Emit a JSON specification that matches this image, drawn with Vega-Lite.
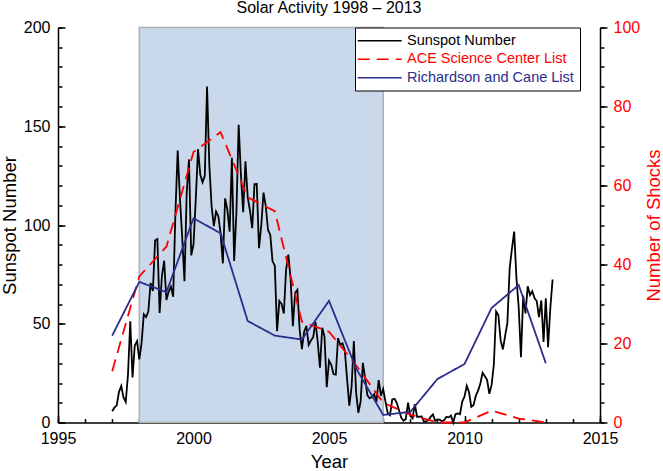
{
  "$schema": "https://vega.github.io/schema/vega-lite/v6.json",
  "width": 542,
  "height": 395,
  "autosize": {"type": "none"},
  "padding": {"left": 58, "top": 27.5, "right": 63, "bottom": 48.5},
  "title": {"text": "Solar Activity 1998 – 2013", "fontSize": 16, "fontWeight": "normal", "font": "Liberation Sans", "offset": 4},
  "datasets": {
    "shade": [{"start": 1998, "end": 2007}],
    "ssn": [
      {"t": 1997.0000, "v": 5.7}, {"t": 1997.0833, "v": 7.6}, {"t": 1997.1667, "v": 8.7}, {"t": 1997.2500, "v": 15.5},
      {"t": 1997.3333, "v": 18.5}, {"t": 1997.4167, "v": 12.7}, {"t": 1997.5000, "v": 10.4}, {"t": 1997.5833, "v": 24.4},
      {"t": 1997.6667, "v": 51.3}, {"t": 1997.7500, "v": 22.8}, {"t": 1997.8333, "v": 39.0}, {"t": 1997.9167, "v": 41.2},
      {"t": 1998.0000, "v": 31.9}, {"t": 1998.0833, "v": 40.3}, {"t": 1998.1667, "v": 54.8}, {"t": 1998.2500, "v": 53.4},
      {"t": 1998.3333, "v": 56.3}, {"t": 1998.4167, "v": 70.7}, {"t": 1998.5000, "v": 66.6}, {"t": 1998.5833, "v": 92.2},
      {"t": 1998.6667, "v": 92.9}, {"t": 1998.7500, "v": 55.5}, {"t": 1998.8333, "v": 74.0}, {"t": 1998.9167, "v": 81.9},
      {"t": 1999.0000, "v": 62.0}, {"t": 1999.0833, "v": 66.3}, {"t": 1999.1667, "v": 68.8}, {"t": 1999.2500, "v": 63.7},
      {"t": 1999.3333, "v": 106.4}, {"t": 1999.4167, "v": 137.7}, {"t": 1999.5000, "v": 113.5}, {"t": 1999.5833, "v": 93.7},
      {"t": 1999.6667, "v": 71.5}, {"t": 1999.7500, "v": 116.7}, {"t": 1999.8333, "v": 133.2}, {"t": 1999.9167, "v": 84.6},
      {"t": 2000.0000, "v": 90.1}, {"t": 2000.0833, "v": 112.9}, {"t": 2000.1667, "v": 138.5}, {"t": 2000.2500, "v": 125.5},
      {"t": 2000.3333, "v": 121.6}, {"t": 2000.4167, "v": 124.9}, {"t": 2000.5000, "v": 170.1}, {"t": 2000.5833, "v": 130.5},
      {"t": 2000.6667, "v": 109.7}, {"t": 2000.7500, "v": 99.4}, {"t": 2000.8333, "v": 106.8}, {"t": 2000.9167, "v": 104.4},
      {"t": 2001.0000, "v": 95.6}, {"t": 2001.0833, "v": 80.6}, {"t": 2001.1667, "v": 113.5}, {"t": 2001.2500, "v": 107.7},
      {"t": 2001.3333, "v": 96.6}, {"t": 2001.4167, "v": 134.0}, {"t": 2001.5000, "v": 81.8}, {"t": 2001.5833, "v": 106.4},
      {"t": 2001.6667, "v": 150.7}, {"t": 2001.7500, "v": 125.5}, {"t": 2001.8333, "v": 106.5}, {"t": 2001.9167, "v": 132.2},
      {"t": 2002.0000, "v": 114.1}, {"t": 2002.0833, "v": 107.4}, {"t": 2002.1667, "v": 98.4}, {"t": 2002.2500, "v": 120.7},
      {"t": 2002.3333, "v": 120.8}, {"t": 2002.4167, "v": 88.3}, {"t": 2002.5000, "v": 99.6}, {"t": 2002.5833, "v": 116.4},
      {"t": 2002.6667, "v": 109.6}, {"t": 2002.7500, "v": 97.5}, {"t": 2002.8333, "v": 95.0}, {"t": 2002.9167, "v": 81.6},
      {"t": 2003.0000, "v": 79.5}, {"t": 2003.0833, "v": 46.2}, {"t": 2003.1667, "v": 61.5}, {"t": 2003.2500, "v": 60.0},
      {"t": 2003.3333, "v": 55.2}, {"t": 2003.4167, "v": 77.4}, {"t": 2003.5000, "v": 85.0}, {"t": 2003.5833, "v": 72.7},
      {"t": 2003.6667, "v": 48.8}, {"t": 2003.7500, "v": 65.6}, {"t": 2003.8333, "v": 67.2}, {"t": 2003.9167, "v": 47.0},
      {"t": 2004.0000, "v": 37.2}, {"t": 2004.0833, "v": 46.0}, {"t": 2004.1667, "v": 48.9}, {"t": 2004.2500, "v": 39.3},
      {"t": 2004.3333, "v": 41.5}, {"t": 2004.4167, "v": 43.2}, {"t": 2004.5000, "v": 51.0}, {"t": 2004.5833, "v": 40.9},
      {"t": 2004.6667, "v": 27.7}, {"t": 2004.7500, "v": 48.0}, {"t": 2004.8333, "v": 43.5}, {"t": 2004.9167, "v": 17.9},
      {"t": 2005.0000, "v": 31.3}, {"t": 2005.0833, "v": 29.2}, {"t": 2005.1667, "v": 24.5}, {"t": 2005.2500, "v": 24.2},
      {"t": 2005.3333, "v": 42.7}, {"t": 2005.4167, "v": 39.3}, {"t": 2005.5000, "v": 40.1}, {"t": 2005.5833, "v": 36.4},
      {"t": 2005.6667, "v": 22.1}, {"t": 2005.7500, "v": 8.5}, {"t": 2005.8333, "v": 18.0}, {"t": 2005.9167, "v": 41.2},
      {"t": 2006.0000, "v": 15.3}, {"t": 2006.0833, "v": 4.9}, {"t": 2006.1667, "v": 10.6}, {"t": 2006.2500, "v": 30.2},
      {"t": 2006.3333, "v": 22.3}, {"t": 2006.4167, "v": 13.9}, {"t": 2006.5000, "v": 12.2}, {"t": 2006.5833, "v": 12.9},
      {"t": 2006.6667, "v": 14.4}, {"t": 2006.7500, "v": 10.4}, {"t": 2006.8333, "v": 21.5}, {"t": 2006.9167, "v": 13.6},
      {"t": 2007.0000, "v": 16.9}, {"t": 2007.0833, "v": 10.6}, {"t": 2007.1667, "v": 4.8}, {"t": 2007.2500, "v": 3.7},
      {"t": 2007.3333, "v": 11.7}, {"t": 2007.4167, "v": 12.0}, {"t": 2007.5000, "v": 10.0}, {"t": 2007.5833, "v": 6.2},
      {"t": 2007.6667, "v": 2.4}, {"t": 2007.7500, "v": 0.9}, {"t": 2007.8333, "v": 1.7}, {"t": 2007.9167, "v": 10.1},
      {"t": 2008.0000, "v": 3.3}, {"t": 2008.0833, "v": 2.1}, {"t": 2008.1667, "v": 9.3}, {"t": 2008.2500, "v": 2.9},
      {"t": 2008.3333, "v": 2.9}, {"t": 2008.4167, "v": 3.1}, {"t": 2008.5000, "v": 0.5}, {"t": 2008.5833, "v": 0.5},
      {"t": 2008.6667, "v": 1.1}, {"t": 2008.7500, "v": 2.9}, {"t": 2008.8333, "v": 4.1}, {"t": 2008.9167, "v": 0.8},
      {"t": 2009.0000, "v": 1.5}, {"t": 2009.0833, "v": 1.4}, {"t": 2009.1667, "v": 0.7}, {"t": 2009.2500, "v": 1.2},
      {"t": 2009.3333, "v": 2.9}, {"t": 2009.4167, "v": 2.6}, {"t": 2009.5000, "v": 3.5}, {"t": 2009.5833, "v": 0.0},
      {"t": 2009.6667, "v": 4.2}, {"t": 2009.7500, "v": 4.6}, {"t": 2009.8333, "v": 4.2}, {"t": 2009.9167, "v": 10.6},
      {"t": 2010.0000, "v": 13.1}, {"t": 2010.0833, "v": 18.6}, {"t": 2010.1667, "v": 15.4}, {"t": 2010.2500, "v": 7.9},
      {"t": 2010.3333, "v": 8.8}, {"t": 2010.4167, "v": 13.5}, {"t": 2010.5000, "v": 16.1}, {"t": 2010.5833, "v": 19.6},
      {"t": 2010.6667, "v": 25.2}, {"t": 2010.7500, "v": 23.5}, {"t": 2010.8333, "v": 21.6}, {"t": 2010.9167, "v": 14.5},
      {"t": 2011.0000, "v": 19.0}, {"t": 2011.0833, "v": 29.4}, {"t": 2011.1667, "v": 56.2}, {"t": 2011.2500, "v": 54.4},
      {"t": 2011.3333, "v": 41.6}, {"t": 2011.4167, "v": 37.0}, {"t": 2011.5000, "v": 43.9}, {"t": 2011.5833, "v": 50.6},
      {"t": 2011.6667, "v": 78.0}, {"t": 2011.7500, "v": 88.0}, {"t": 2011.8333, "v": 96.7}, {"t": 2011.9167, "v": 73.0},
      {"t": 2012.0000, "v": 58.3}, {"t": 2012.0833, "v": 33.1}, {"t": 2012.1667, "v": 64.2}, {"t": 2012.2500, "v": 55.2},
      {"t": 2012.3333, "v": 69.0}, {"t": 2012.4167, "v": 64.5}, {"t": 2012.5000, "v": 66.5}, {"t": 2012.5833, "v": 63.0},
      {"t": 2012.6667, "v": 61.4}, {"t": 2012.7500, "v": 53.3}, {"t": 2012.8333, "v": 61.8}, {"t": 2012.9167, "v": 40.8},
      {"t": 2013.0000, "v": 62.9}, {"t": 2013.0833, "v": 38.1}, {"t": 2013.1667, "v": 57.9}, {"t": 2013.2500, "v": 72.4}
    ],
    "shocks": [
      {"t": 1997, "s": "ACE Science Center List", "v": 13},
      {"t": 1998, "s": "ACE Science Center List", "v": 37},
      {"t": 1999, "s": "ACE Science Center List", "v": 44.5},
      {"t": 2000, "s": "ACE Science Center List", "v": 68.5},
      {"t": 2001, "s": "ACE Science Center List", "v": 73.5},
      {"t": 2002, "s": "ACE Science Center List", "v": 57},
      {"t": 2003, "s": "ACE Science Center List", "v": 53.5},
      {"t": 2004, "s": "ACE Science Center List", "v": 25.5},
      {"t": 2005, "s": "ACE Science Center List", "v": 23},
      {"t": 2006, "s": "ACE Science Center List", "v": 14.5},
      {"t": 2007, "s": "ACE Science Center List", "v": 5},
      {"t": 2008, "s": "ACE Science Center List", "v": 2},
      {"t": 2009, "s": "ACE Science Center List", "v": 0},
      {"t": 2010, "s": "ACE Science Center List", "v": 0},
      {"t": 2011, "s": "ACE Science Center List", "v": 3},
      {"t": 2012, "s": "ACE Science Center List", "v": 1},
      {"t": 2013, "s": "ACE Science Center List", "v": 0},
      {"t": 1997, "s": "Richardson and Cane List", "v": 22},
      {"t": 1998, "s": "Richardson and Cane List", "v": 35.6},
      {"t": 1999, "s": "Richardson and Cane List", "v": 33},
      {"t": 2000, "s": "Richardson and Cane List", "v": 51.7},
      {"t": 2001, "s": "Richardson and Cane List", "v": 47.9},
      {"t": 2002, "s": "Richardson and Cane List", "v": 25.7},
      {"t": 2003, "s": "Richardson and Cane List", "v": 22},
      {"t": 2004, "s": "Richardson and Cane List", "v": 21},
      {"t": 2005, "s": "Richardson and Cane List", "v": 30.8},
      {"t": 2006, "s": "Richardson and Cane List", "v": 13.7},
      {"t": 2007, "s": "Richardson and Cane List", "v": 1.9},
      {"t": 2008, "s": "Richardson and Cane List", "v": 2.7},
      {"t": 2009, "s": "Richardson and Cane List", "v": 11},
      {"t": 2010, "s": "Richardson and Cane List", "v": 14.8},
      {"t": 2011, "s": "Richardson and Cane List", "v": 29},
      {"t": 2012, "s": "Richardson and Cane List", "v": 34.8},
      {"t": 2013, "s": "Richardson and Cane List", "v": 15}
    ]
  },
  "layer": [
    {
      "data": {"name": "shade"},
      "mark": {"type": "rect", "fill": "#c9d8ea", "stroke": "#b0b0b0", "strokeWidth": 1.5},
      "encoding": {
        "x": {"field": "start", "type": "quantitative", "scale": {"domain": [1995, 2015], "nice": false}, "axis": null},
        "x2": {"field": "end"}
      }
    },
    {
      "data": {"name": "ssn"},
      "mark": {"type": "line", "strokeWidth": 1.8},
      "encoding": {
        "x": {"field": "t", "type": "quantitative", "scale": {"domain": [1995, 2015], "nice": false},
          "axis": {"orient": "bottom", "values": [1995, 2000, 2005, 2010, 2015], "format": "d", "ticks": false, "labelFlush": false, "labelPadding": 8, "title": "Year", "titlePadding": 6}},
        "y": {"field": "v", "type": "quantitative", "scale": {"domain": [0, 200], "nice": false},
          "axis": {"orient": "left", "values": [0, 50, 100, 150, 200], "ticks": false, "labelPadding": 8, "title": "Sunspot Number", "titlePadding": 4}},
        "color": {"datum": "Sunspot Number", "type": "nominal",
          "scale": {"domain": ["Sunspot Number", "ACE Science Center List", "Richardson and Cane List"], "range": ["black", "red", "#2b2d8c"]}},
        "strokeDash": {"datum": "Sunspot Number", "type": "nominal",
          "scale": {"domain": ["Sunspot Number", "ACE Science Center List", "Richardson and Cane List"], "range": [[1, 0], [12, 7], [1, 0]]}}
      }
    },
    {
      "data": {"name": "shocks"},
      "mark": {"type": "line", "strokeWidth": 1.8},
      "encoding": {
        "x": {"field": "t", "type": "quantitative", "scale": {"domain": [1995, 2015], "nice": false}, "axis": null},
        "y": {"field": "v", "type": "quantitative", "scale": {"domain": [0, 100], "nice": false},
          "axis": {"orient": "right", "values": [0, 20, 40, 60, 80, 100], "tickSize": 7, "labelPadding": 6, "labelColor": "red",
            "title": "Number of Shocks", "titleColor": "red", "titleAngle": 270, "titleBaseline": "top", "titlePadding": 5}},
        "color": {"field": "s", "type": "nominal",
          "scale": {"domain": ["Sunspot Number", "ACE Science Center List", "Richardson and Cane List"], "range": ["black", "red", "#2b2d8c"]},
          "legend": {"encode": {"labels": {"update": {"fill": {"scale": "color", "field": "value"}}}}}},
        "strokeDash": {"field": "s", "type": "nominal",
          "scale": {"domain": ["Sunspot Number", "ACE Science Center List", "Richardson and Cane List"], "range": [[1, 0], [12, 7], [1, 0]]}}
      }
    },
    {
      "data": {"name": "ssn"},
      "mark": {"type": "line", "opacity": 0},
      "encoding": {
        "x": {"field": "t", "type": "quantitative", "scale": {"domain": [1995, 2015], "nice": false},
          "axis": {"orient": "bottom", "values": [1995, 1996, 1997, 1998, 1999, 2000, 2001, 2002, 2003, 2004, 2005, 2006, 2007, 2008, 2009, 2010, 2011, 2012, 2013, 2014, 2015],
            "labels": false, "domain": false, "tickSize": -4, "title": null}},
        "y": {"field": "v", "type": "quantitative", "scale": {"domain": [0, 200], "nice": false},
          "axis": {"orient": "left", "values": [0, 10, 20, 30, 40, 50, 60, 70, 80, 90, 100, 110, 120, 130, 140, 150, 160, 170, 180, 190, 200],
            "labels": false, "domain": false, "tickSize": -4, "title": null}}
      }
    },
    {
      "data": {"name": "ssn"},
      "mark": {"type": "line", "opacity": 0},
      "encoding": {
        "x": {"field": "t", "type": "quantitative", "scale": {"domain": [1995, 2015], "nice": false},
          "axis": {"orient": "bottom", "values": [1995, 2000, 2005, 2010, 2015], "labels": false, "domain": false, "tickSize": -7, "title": null}},
        "y": {"field": "v", "type": "quantitative", "scale": {"domain": [0, 200], "nice": false},
          "axis": {"orient": "left", "values": [0, 50, 100, 150, 200], "labels": false, "domain": false, "tickSize": -7, "title": null}}
      }
    },
    {
      "data": {"name": "shocks"},
      "mark": {"type": "line", "opacity": 0},
      "encoding": {
        "x": {"field": "t", "type": "quantitative", "scale": {"domain": [1995, 2015], "nice": false}, "axis": null},
        "y": {"field": "v", "type": "quantitative", "scale": {"domain": [0, 100], "nice": false},
          "axis": {"orient": "right", "values": [0, 5, 10, 15, 20, 25, 30, 35, 40, 45, 50, 55, 60, 65, 70, 75, 80, 85, 90, 95, 100],
            "labels": false, "domain": false, "tickSize": 4, "title": null}},
        "detail": {"field": "s"}
      }
    }
  ],
  "resolve": {"scale": {"x": "independent", "y": "independent"}},
  "config": {
    "font": "Liberation Sans",
    "view": {"stroke": null},
    "axis": {
      "zindex": 1, "grid": false, "domainColor": "black", "domainWidth": 1.5, "tickColor": "black", "tickWidth": 1.5,
      "labelFont": "Liberation Sans", "labelFontSize": 16, "labelColor": "black",
      "titleFont": "Liberation Sans", "titleFontSize": 18.5, "titleFontWeight": "normal", "titleColor": "black"
    },
    "legend": {
      "orient": "none", "legendX": 297, "legendY": 0, "title": null,
      "symbolType": "M-4,0H4", "symbolSize": 121, "symbolStrokeWidth": 1.5, "symbolOffset": 11.5, "labelOffset": 20,
      "labelFont": "Liberation Sans", "labelFontSize": 14.5, "labelLimit": 300,
      "strokeColor": "black", "fillColor": "white", "padding": 6, "rowPadding": 3.5
    }
  }
}
